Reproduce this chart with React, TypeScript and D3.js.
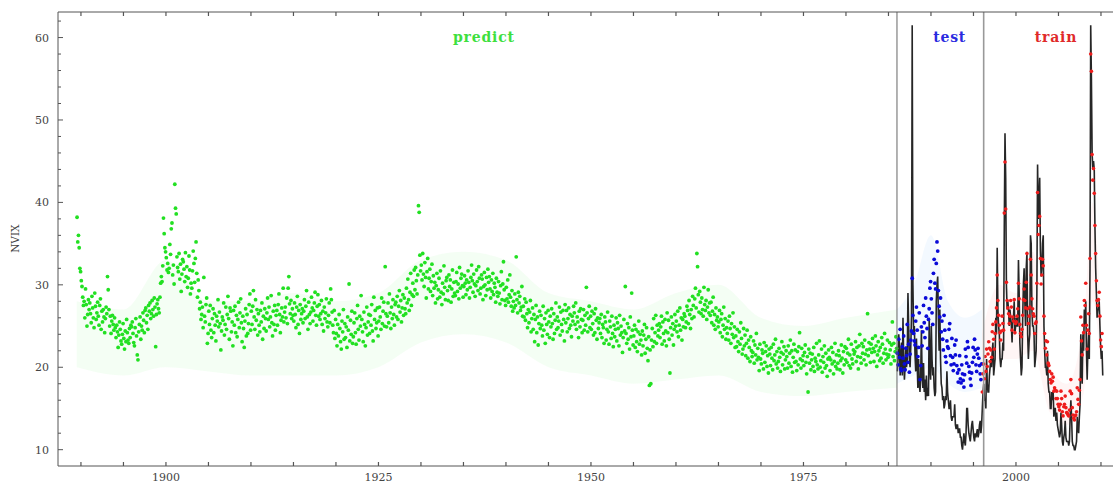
import * as d3 from "d3";

// NVIX, monthly. predict starts Jul 1889, test Jan 1986, train Jan 1996, vix Jan 1986
const predictStart = 1889.5;
const testStart = 1986;
const trainStart = 1996;
const vixStart = 1986;

const predictNvix = [
  38.2, 35.2, 36, 34.5, 32, 31.6,
  30.5, 29.8, 28.5, 27.5, 28, 26, 29.5, 27.6, 25, 26.4, 28.2, 27,
  27.8, 26.5, 25.4, 28.6, 27.2, 26, 24.8, 29, 27.4, 25.8, 26.6, 27.9,
  26.2, 25.1, 27.5, 28.3, 24.6, 26.8, 25.5, 27, 26.1, 24.2, 25.9, 27.3,
  26.5, 31, 29.4, 27, 25, 26.2, 24.1, 25.6, 26.3, 25.2, 24.5, 26,
  24.8, 23.6, 25.1, 24.3, 22.4, 23.9, 25.5, 24.6, 23.2, 22.8, 24, 25.3,
  23.5, 22.2, 24.4, 23.1, 25.8, 24.2, 23.3, 22.9, 24.7, 23.6, 25.1, 24.9,
  25.5, 24.1, 23, 22.6, 24.8, 25.9, 23.8, 21.5, 20.9, 24.3, 25.2, 26.1,
  23.4, 25, 24.5, 26.6, 25.7, 24.2, 26.9, 27.2, 25.4, 26.3, 24.6, 27.5,
  26.8, 27.8, 25.9, 26.5, 28.1, 27, 26.2, 28.4, 27.3, 22.5, 26.4, 27.7,
  28.2, 27.1, 26.6, 28.5, 30.2, 31, 30.4, 32.3, 38.1, 36.2, 34.5, 34,
  33.3, 31.8, 32.6, 31.5, 32, 34.9, 33.7, 36.8, 37.5, 31.2, 32.4, 30.1,
  42.2, 39.3, 38.6, 33.4, 32.1, 31.6, 33.8, 30.7, 32.5, 29.2, 31.3, 33.1,
  32.8, 31.9, 30.4, 33.9, 31, 32.2, 29.7, 30.8, 33.5, 31.8, 28.9, 30.2,
  29.6, 31.7, 34.1, 32.6, 30.3, 33.2, 35.2, 31.4, 28.5, 30.6, 29.3, 27.1,
  27.9, 25.8, 26.4, 27.3, 24.8, 30.9, 26.2, 25.5, 27.6, 28.4, 22.9, 24.1,
  26.8, 25.2, 27.5, 24.5, 23.6, 25.9, 27.1, 24.2, 26.5, 25.1, 23.2, 26.2,
  25.6, 28.2, 24.9, 26.7, 25.3, 22.1, 24.4, 26.1, 25.7, 27.8, 23.9, 25.2,
  27.3, 24.6, 26.4, 28.6, 25.9, 23.4, 27.2, 26.8, 24.3, 25.5, 22.6, 26.9,
  25.1, 27.4, 24.2, 26.3, 23.7, 25.8, 27.9, 24.8, 26.6, 28.3, 25.4, 23.1,
  26.2, 24.7, 22.4, 25.6, 27.1, 23.8, 26.4, 24.1, 25.3, 27.6, 28.9, 24.5,
  26.8, 25.2, 27.4, 29.3, 26.1, 24.6, 28.2, 25.7, 27, 23.9, 26.5, 25.1,
  24.3, 26.9, 25.5, 27.8, 23.4, 26.2, 24.7, 27.1, 25.9, 24.4, 26.6, 28.4,
  25.8, 27.3, 24.9, 26.1, 28.7, 25.4, 23.8, 26.8, 25.2, 27.5, 24.5, 26.3,
  26.9, 25.1, 27.6, 28.9, 26.4, 24.2, 25.7, 27.2, 26.1, 29.6, 25.5, 26.7,
  27.3, 26, 28.4, 25.3, 29.6, 31, 27.7, 26.5, 28.1, 25.9, 27.1, 26.3,
  25.6, 27.8, 26.4, 24.8, 27.3, 28.6, 25.2, 26.9, 24.1, 27.6, 25.8, 26.5,
  27.1, 25.4, 26.8, 28.2, 25.9, 27.4, 29.3, 26.1, 24.6, 27.9, 26.4, 25.3,
  26.7, 28.5, 27.2, 25.6, 26.9, 27.8, 29.1, 26.3, 25.1, 27.4, 28.8, 26.2,
  27.6, 25.8, 26.5, 28.1, 25.2, 26.8, 24.4, 27.3, 25.9, 26.6, 28.3, 25.5,
  24.9, 26.3, 27.8, 25.4, 29.5, 28.2, 26.7, 25.1, 24.2, 26.9, 23.5, 25.8,
  24.1, 22.6, 25.2, 23.8, 26.4, 24.7, 23.1, 22.2, 25.6, 24.3, 27, 23.4,
  25.3, 23.6, 24.9, 22.4, 26.1, 24.5, 30.1, 23.2, 25.7, 24, 26.8, 22.9,
  23.7, 25.4, 26.6, 24.2, 22.8, 25.9, 27.5, 24.6, 23.3, 26.2, 25, 28.7,
  25.8, 24.3, 23.1, 26.7, 25.2, 22.6, 24.8, 27.3, 23.9, 25.5, 26.4, 24.1,
  26.3, 25.1, 27.6, 24.4, 23.2, 28.5, 25.8, 26.9, 24.7, 25.4, 27.2, 23.8,
  25.6, 27.3, 26.1, 24.6, 28.4, 25.3, 26.8, 27.9, 25, 32.2, 26.5, 24.9,
  26.2, 27.8, 25.4, 28.9, 26.6, 24.7, 27.3, 25.9, 28.2, 26.4, 25.1, 27.6,
  27.9, 26.1, 28.6, 25.8, 27.4, 29.3, 26.7, 28.1, 25.5, 27.2, 28.8, 26.3,
  28.4, 27.1, 26.5, 29.6, 27.8, 30.7, 28.2, 26.9, 29.1, 31.4, 27.5, 28.8,
  30.2, 28.6, 31.8, 29.4, 32.1, 30.5, 28.9, 31.2, 39.6, 38.8, 33.6, 31.7,
  32.4, 30.6, 33.8, 31.3, 29.8, 32.7, 30.9, 28.4, 31.6, 33.2, 29.5, 30.8,
  31.9, 29.2, 30.4, 32.5, 28.7, 31.1, 29.6, 30.3, 27.8, 29.9, 31.4, 28.3,
  29.4, 30.8, 28.5, 31.7, 29.1, 27.6, 30.2, 28.9, 32.3, 29.7, 28.2, 30.5,
  30.9, 29.3, 28.1, 31.2, 29.8, 30.6, 27.9, 29.5, 31.8, 28.6, 30.3, 29,
  28.7, 30.4, 31.5, 29.2, 30.1, 28.3, 32.1, 29.6, 30.8, 31.3, 29.9, 28.5,
  29.8, 31.1, 30.2, 28.8, 30.6, 29.4, 31.7, 30.3, 28.4, 29.7, 30.9, 32.4,
  30.5, 29.1, 31.3, 30.1, 28.6, 29.9, 31.8, 30.4, 29.3, 32.2, 30.8, 28.9,
  29.6, 31.2, 30.7, 28.2, 29.8, 31.5, 30, 28.7, 30.9, 29.4, 31.9, 30.3,
  31, 29.5, 28.4, 30.6, 29.2, 31.4, 28.8, 30.2, 29.7, 27.9, 30.8, 29.1,
  28.6, 30.4, 29, 27.7, 29.9, 31.6, 28.2, 30.1, 32.8, 29.4, 28.1, 27.5,
  29.7, 28.3, 30.6, 27.9, 28.8, 31.2, 28.5, 27.4, 29.3, 26.8, 28, 27.2,
  28.9, 27.5, 33.4, 28.2, 26.6, 29.1, 27.8, 28.6, 26.9, 27.3, 29.8, 26.2,
  27.4, 26.1, 28.3, 25.7, 27.9, 26.5, 24.8, 27, 25.4, 26.7, 28.1, 24.3,
  25.9, 27.2, 24.6, 26.4, 23.1, 25.8, 27.5, 24.2, 26.1, 22.7, 25.3, 26.8,
  24.7, 26.3, 25.1, 23.8, 27.4, 24.5, 25.9, 22.9, 26.6, 25.2, 24, 26.9,
  25.5, 23.6, 26.2, 24.9, 27.1, 25.3, 23.4, 26.5, 24.1, 25.7, 27.8, 24.6,
  26.1, 24.8, 25.6, 27.3, 23.9, 26.7, 25.2, 24.4, 26.9, 25.8, 23.2, 27.6,
  25.4, 26.9, 24.3, 25.9, 27.2, 24.7, 26.4, 25.1, 23.7, 26.2, 25.6, 27.4,
  26.6, 25.2, 27.8, 24.6, 26.1, 25.5, 23.6, 26.8, 24.9, 27.1, 25.8, 24.2,
  25.7, 27, 24.5, 26.3, 25.1, 29.7, 26.6, 24.3, 25.9, 27.4, 24.8, 26.2,
  24.6, 26.8, 25.3, 23.9, 26.5, 24.2, 27.1, 25.7, 23.4, 26, 24.7, 25.4,
  25.9, 24.1, 26.4, 23.6, 25.2, 24.8, 22.9, 26.1, 25.5, 23.3, 24.6, 26.7,
  24.3, 22.8, 25.6, 24.9, 23.5, 26.2, 24.1, 22.5, 25.1, 23.7, 24.6, 26,
  23.2, 25.4, 24.7, 22.6, 26.3, 23.9, 25, 24.2, 21.8, 23.6, 25.8, 24.4,
  29.8, 24.1, 22.9, 25.3, 23.4, 24.8, 22.2, 26.1, 23.7, 29, 24.5, 22.7,
  23.8, 25.1, 22.4, 24.6, 23.1, 21.9, 24.3, 25.6, 22.8, 24, 23.3, 21.5,
  24.4, 22.6, 23.9, 25.2, 21.7, 23.4, 24.8, 22.3, 20.8, 23.7, 17.8, 22.1,
  18, 23.3, 24.7, 22.5, 25.9, 23.1, 24.2, 26.3, 22.9, 25.1, 23.8, 24.5,
  25.3, 23.6, 24.9, 26.2, 22.8, 25.5, 24.1, 23.2, 25.8, 24.4, 22.6, 26.6,
  24.2, 25.7, 23.4, 19.3, 24.8, 26.1, 23.9, 25.3, 22.7, 24.6, 26.4, 25,
  25.6, 24.3, 26.8, 23.7, 25.1, 27.2, 24.5, 26, 23.3, 25.8, 24.9, 26.5,
  26.2, 24.8, 25.5, 27.4, 26.9, 25.3, 28.1, 26.4, 24.7, 27, 25.9, 28.6,
  27.5, 26.1, 28.3, 29.6, 27.2, 33.8, 32.2, 28.8, 26.7, 29.2, 27.9, 26.5,
  28.4, 27, 26.2, 29.7, 27.6, 26.9, 28.1, 25.8, 27.3, 29.4, 26.6, 27.8,
  26.3, 27.9, 25.4, 26.8, 28.5, 25.1, 26.4, 24.6, 27.2, 25.7, 26.1, 24.9,
  25.5, 26.9, 24.2, 25.8, 26.5, 23.7, 25.1, 27.3, 24.6, 25.9, 23.4, 24.8,
  24.1, 25.6, 23.3, 26.2, 24.7, 22.9, 25.3, 24, 26.6, 23.6, 24.9, 22.4,
  23.8, 22.5, 24.6, 23.1, 21.9, 24.3, 22.8, 25.4, 23.5, 21.6, 22.2, 24.7,
  22.6, 23.9, 21.4, 22.9, 24.5, 21.1, 23.3, 22.4, 20.7, 23.7, 22, 21.3,
  21.8, 23.2, 20.5, 22.7, 21.5, 24.1, 20.9, 22.3, 21.2, 19.6, 22.8, 21,
  20.4, 22.1, 21.7, 19.8, 23, 20.6, 21.9, 22.6, 20.1, 21.4, 19.3, 22.2,
  21.6, 20.2, 22.4, 21.1, 19.7, 22.8, 20.8, 21.5, 23.4, 20.4, 21.9, 19.9,
  20.7, 22.3, 21.2, 19.5, 21.8, 23.1, 20.3, 21.6, 22.5, 19.8, 20.9, 22,
  21.3, 19.9, 22.6, 20.5, 21.7, 23.3, 20.1, 22, 19.4, 21.2, 22.8, 20.6,
  22.1, 20.7, 19.6, 21.9, 20.3, 22.5, 24.2, 21, 19.9, 22.3, 20.8, 21.4,
  20.2, 21.8, 22.7, 20.6, 19.2, 21.3, 17, 22.2, 20.5, 21.7, 19.7, 20.9,
  21.6, 20.1, 22.4, 19.5, 21.1, 20.7, 22.9, 20.3, 19.8, 21.5, 23.2, 20,
  20.8, 22.2, 19.4, 21.3, 20.6, 22.6, 19.9, 21.7, 20.2, 18.9, 21, 22.1,
  21.2, 19.6, 20.9, 22.4, 20.4, 21.8, 19.2, 20.7, 22.9, 20.1, 21.5, 19.8,
  20.5, 22, 21.4, 19.7, 20.8, 22.7, 21.1, 19.3, 21.9, 20.3, 22.5, 20.9,
  22.3, 20.6, 21.7, 23.4, 20.2, 21.5, 19.9, 22.8, 21, 20.4, 22.1, 21.6,
  21.9, 23.1, 20.7, 22.4, 21.3, 19.8, 22.6, 24, 21.2, 20.5, 22.9, 21.7,
  22.5, 20.9, 23.3, 21.6, 20.3, 22.1, 26.5, 21.4, 23, 22.2, 20.6, 22.8,
  21.8, 23.5, 22.3, 20.7, 21.9, 23.8, 22.6, 20.1, 21.5, 23.1, 22, 20.8,
  22.4, 21.1, 23.6, 22.8, 20.5, 21.7, 24.1, 22.2, 20.9, 21.6, 23.3, 21.2,
  21.5, 23, 22.1, 20.4, 22.7, 25.5, 21.3, 22.9, 20.8, 21.9, 23.7, 22.3,
];

const testNvix = [
  21.7, 20.3, 23.4, 21.2, 24.6, 19.8, 19.6, 22.5, 21.1, 23.8, 20.4, 19.7,
  22.3, 21.4, 25.2, 20.6, 22.8, 19.4, 21.6, 23.3, 24.4, 30.8, 26.3, 24.1,
  23.2, 22.7, 25.6, 27.3, 24.5, 21.3, 22.4, 26.6, 18.5, 20.2, 24.9, 22.6,
  24.3, 27.5, 25.4, 23.6, 28.4, 26.2, 24.7, 22.3, 25.8, 27.1, 29.6, 30.4,
  28.3, 26.6, 25.2, 31.4, 33.1, 30.2, 29.5, 32.6, 35.2, 34.1, 29.3, 27.4,
  26.1, 28.4, 24.3, 25.6, 23.4, 22.1, 26.3, 24.5, 21.3, 20.6, 23.2, 22.5,
  22.3, 24.6, 25.3, 21.4, 20.3, 23.5, 21.2, 19.6, 20.4, 22.7, 21.5, 23.3,
  20.2, 19.3, 18.2, 19.7, 21.4, 18.6, 18.1, 20.3, 19.2, 18.4, 17.6, 19.1,
  22.2, 21.3, 20.5, 23.1, 22.4, 20.1, 19.4, 18.6, 17.8, 19.3, 20.6, 22.4,
  21.2, 23.4, 22.1, 20.3, 19.5, 21.6, 22.3, 21.1, 20.2, 19.2, 18.5, 20.4,
];

const trainNvix = [
  17, 19.2, 20.4, 18.6, 21.3, 19.5, 22.2, 20.1, 21.6, 23.1, 22.3, 20.7,
  22.1, 21.2, 24.3, 25.2, 23.4, 22.2, 24.1, 25.5, 27.2, 31.2, 28.1, 26.3,
  25.1, 24.2, 23.3, 24.4, 26.2, 25.3, 24.5, 38.7, 44.9, 39.2, 30.3, 28.1,
  27.2, 26.5, 25.3, 26.2, 28.1, 27.3, 24.5, 26.1, 25.6, 28.2, 24.2, 25.3,
  25.5, 26.2, 27.1, 30.2, 28.3, 25.2, 24.1, 23.7, 24.6, 26.3, 28.2, 29.5,
  28.1, 27.2, 30.3, 33.8, 27.1, 25.3, 26.2, 27.3, 33.1, 31.2, 28.3, 27.1,
  26.5, 26.2, 24.1, 25.3, 25.5, 30.2, 41.2, 36.1, 37.2, 38.3, 33.2, 30.1,
  31.2, 33.1, 32.3, 26.2, 24.1, 22.3, 23.2, 21.5, 23.1, 20.5, 20.2, 19.5,
  18.5, 18.1, 19.2, 18.3, 18.8, 17.1, 17.5, 17.2, 16.2, 17.1, 16.2, 15.5,
  15.2, 14.8, 15.5, 17.1, 16.2, 14.6, 14.1, 15.2, 15.5, 16.5, 15.1, 14.5,
  14.4, 14.2, 14.1, 14.8, 17.1, 18.5, 16.8, 15.1, 14.2, 13.8, 13.6, 14.1,
  14.2, 14.6, 17.5, 16.1, 15.5, 17.2, 18.5, 26.1, 23.2, 21.5, 25.1, 24.2,
  28.1, 27.5, 30.2, 25.1, 22.2, 24.5, 26.5, 24.1, 33.2, 58, 55.9, 45.8,
  42.7, 44.1, 41.1, 37.2, 33.8, 30.5, 28.1, 27.5, 28.2, 29.1, 26.2, 23.3,
  22.5, 24.1,
];

const vix = [
  19.5, 21, 24, 22.5, 19, 21.5, 23, 19, 26, 21, 18.5, 20,
  22.5, 20, 21, 29, 25, 21, 20, 22.5, 26, 61.5, 30, 24,
  25, 21.5, 19.5, 23.5, 20.5, 17.5, 21, 18, 17, 19, 24.5, 19,
  17.5, 20.5, 17, 18.5, 16, 19, 16.5, 17.5, 16.5, 26, 20, 18.5,
  25, 21, 19, 20, 17.5, 16.5, 17, 28, 30, 31, 26, 22,
  27, 21, 18, 17.5, 16, 16.5, 15, 15.5, 16.5, 16, 19.5, 17,
  16, 15, 15, 16, 14, 13.5, 14, 14, 14, 15.5, 13, 12.5,
  13, 13, 12, 12.5, 12.5, 11.5, 11.5, 10.5, 10, 11, 12, 11,
  10.5, 12, 15, 15, 13, 12, 11.5, 11, 12, 13, 13.5, 12.5,
  11.5, 11, 12, 11.5, 12, 12.5, 11.5, 12, 13, 13.5, 12, 13,
  15, 17, 18, 16, 16, 15, 21, 18, 17, 17, 19, 20,
  21, 20, 22, 23, 19, 20, 21, 26, 24, 34.5, 27, 25,
  24, 21, 20, 21, 21, 23, 22, 37, 48.4, 43, 30, 27,
  28, 27, 25, 27, 26, 25, 23, 26, 26, 28, 24, 25,
  26, 25, 25, 33, 29, 23, 21, 19, 20, 26, 30, 32,
  28, 25, 32, 34, 24, 21, 23, 24, 36, 35, 27, 25,
  25, 24, 20, 21, 22, 29, 44.6, 38, 40, 43, 34, 31,
  32, 35, 36, 25, 22, 20, 20, 19, 22, 18, 17, 17,
  15, 15, 17, 16, 17, 14, 15, 15, 13.5, 14.5, 13, 12.5,
  12, 11.5, 12, 14.5, 13, 11, 10.5, 11.5, 12, 13.5, 11.5, 11,
  11, 11, 10.5, 11, 14, 16, 14, 11, 10.5, 10.5, 10, 10,
  10.5, 11, 14, 12.5, 12, 14, 15.5, 24, 20, 18, 24, 22,
  27, 25, 28, 22, 18.5, 22, 24, 21, 32, 61.5, 55, 46,
  44, 45, 44, 37, 32, 29, 26, 27, 27, 28, 25, 22.5,
  21, 22, 19,
];

// faint standard-error bands behind the dots
const predictBandYears = [1889.5, 1895, 1900, 1905, 1910, 1915, 1920, 1925, 1930, 1935, 1940, 1945, 1950, 1955, 1960, 1965, 1970, 1975, 1980, 1986];
const predictBandLow = [20, 19, 20, 19.5, 19, 19, 19, 20, 23, 24, 23, 20, 19, 18, 18.5, 19, 17, 16.5, 17, 17.5];
const predictBandHigh = [28, 27, 33, 28, 28, 29, 28, 29, 33, 34, 33, 29, 28, 27, 29, 30, 26, 25, 26, 27];
const testBandYears = [1986, 1988, 1990, 1992, 1994, 1996];
const testBandLow = [18, 19, 20, 18, 17, 17.5];
const testBandHigh = [27, 30, 36, 28, 26, 27];
const trainBandYears = [1996, 1998, 2000, 2002, 2004, 2006, 2008, 2009, 2010];
const trainBandLow = [17, 21, 21, 22, 14.5, 13, 17, 28, 20];
const trainBandHigh = [24, 30, 29, 34, 20, 18, 26, 40, 26];

const yTicks = [10, 20, 30, 40, 50, 60];
const xTicks = [1900, 1925, 1950, 1975, 2000];

const W = 1113;
const H = 483;
const left = 58;
const top = 12;
const bottom = 466;
const right = 1115;

const font = "'DejaVu Serif', 'Liberation Serif', serif";
const axisColor = "#555";

const monthly = (vals: number[], start: number) =>
  vals.map((v, i) => ({ t: start + i / 12 + 1 / 24, v }));

const band = (years: number[], lo: number[], hi: number[]) =>
  years.map((t, i) => ({ t, lo: lo[i], hi: hi[i] }));

export default function App() {
  const x = d3.scaleLinear().domain([1887.3, 2011.65]).range([left, right]);
  const y = d3.scaleLinear().domain([8.02, 63.1]).range([bottom, top]);

  const predict = monthly(predictNvix, predictStart);
  const test = monthly(testNvix, testStart);
  const train = monthly(trainNvix, trainStart);
  const vixPts = monthly(vix, vixStart);

  const line = d3
    .line<{ t: number; v: number }>()
    .x((d) => x(d.t))
    .y((d) => y(d.v));

  const area = d3
    .area<{ t: number; lo: number; hi: number }>()
    .x((d) => x(d.t))
    .y0((d) => y(d.lo))
    .y1((d) => y(d.hi))
    .curve(d3.curveMonotoneX);

  const minorX = d3.range(1890, 2011, 5);
  const minorY = d3.range(10, 63, 2);

  const eraLabel = { fontFamily: font, fontWeight: "bold", fontSize: 14, letterSpacing: 0.8 };

  return (
    <div style={{ position: "fixed", left: 0, top: 0 }}>
      <svg width={W} height={H} style={{ display: "block", background: "#fff" }}>
        <defs>
          <clipPath id="plot">
            <rect x={left} y={top} width={right - left} height={bottom - top} />
          </clipPath>
        </defs>

        <g clipPath="url(#plot)">
          <path d={area(band(predictBandYears, predictBandLow, predictBandHigh)) ?? ""} fill="#00dd00" opacity={0.045} />
          <path d={area(band(testBandYears, testBandLow, testBandHigh)) ?? ""} fill="#3399ff" opacity={0.06} />
          <path d={area(band(trainBandYears, trainBandLow, trainBandHigh)) ?? ""} fill="#ff3333" opacity={0.05} />

          <path d={line(vixPts) ?? ""} fill="none" stroke="#000" strokeWidth={1.6} strokeOpacity={0.85} />

          {predict.map((d, i) => (
            <circle key={"p" + i} cx={x(d.t)} cy={y(d.v)} r={1.9} fill="#22e022" />
          ))}
          {test.map((d, i) => (
            <circle key={"s" + i} cx={x(d.t)} cy={y(d.v)} r={1.9} fill="#0a0ad8" />
          ))}
          {train.map((d, i) => (
            <circle key={"r" + i} cx={x(d.t)} cy={y(d.v)} r={1.8} fill="#ee1c1c" />
          ))}

          <line x1={x(testStart)} x2={x(testStart)} y1={top} y2={bottom} stroke="#666" strokeWidth={1} />
          <line x1={x(trainStart + 0.2)} x2={x(trainStart + 0.2)} y1={top} y2={bottom} stroke="#999" strokeWidth={1.6} />
        </g>

        {/* frame */}
        <line x1={left} x2={right} y1={bottom} y2={bottom} stroke={axisColor} />
        <line x1={left} x2={right} y1={top} y2={top} stroke={axisColor} />
        <line x1={left} x2={left} y1={top} y2={bottom} stroke={axisColor} />

        {/* x ticks, inward on bottom and top */}
        {minorX.map((t) => (
          <g key={"xt" + t}>
            <line x1={x(t)} x2={x(t)} y1={bottom} y2={bottom - 4} stroke={axisColor} strokeWidth={1.2} />
            <line x1={x(t)} x2={x(t)} y1={top} y2={top + 4} stroke={axisColor} strokeWidth={1.2} />
          </g>
        ))}
        {xTicks.map((t) => (
          <text key={"xl" + t} x={x(t)} y={481} textAnchor="middle" fontFamily={font} fontSize={11} fill="#444">
            {t}
          </text>
        ))}

        {/* y ticks */}
        {minorY.map((v) => (
          <line
            key={"ym" + v}
            x1={left}
            x2={left + (v % 10 === 0 ? 5 : 3)}
            y1={y(v)}
            y2={y(v)}
            stroke={axisColor}
            strokeWidth={1}
          />
        ))}
        {yTicks.map((v) => (
          <text key={"yl" + v} x={49} y={y(v) + 4} textAnchor="end" fontFamily={font} fontSize={11} fill="#444">
            {v}
          </text>
        ))}
        <text
          transform={`translate(19, ${y(35.6)}) rotate(-90)`}
          textAnchor="middle"
          fontFamily={font}
          fontSize={10.5}
          fill="#444"
        >
          NVIX
        </text>

        {/* era labels */}
        <text x={x(1937.4)} y={y(59.4)} textAnchor="middle" {...eraLabel} fill="#3ee03e">
          predict
        </text>
        <text x={x(1992.2)} y={y(59.4)} textAnchor="middle" {...eraLabel} fill="#2a2ae0">
          test
        </text>
        <text x={x(2004.7)} y={y(59.4)} textAnchor="middle" {...eraLabel} fill="#e02a2a">
          train
        </text>
      </svg>
    </div>
  );
}
